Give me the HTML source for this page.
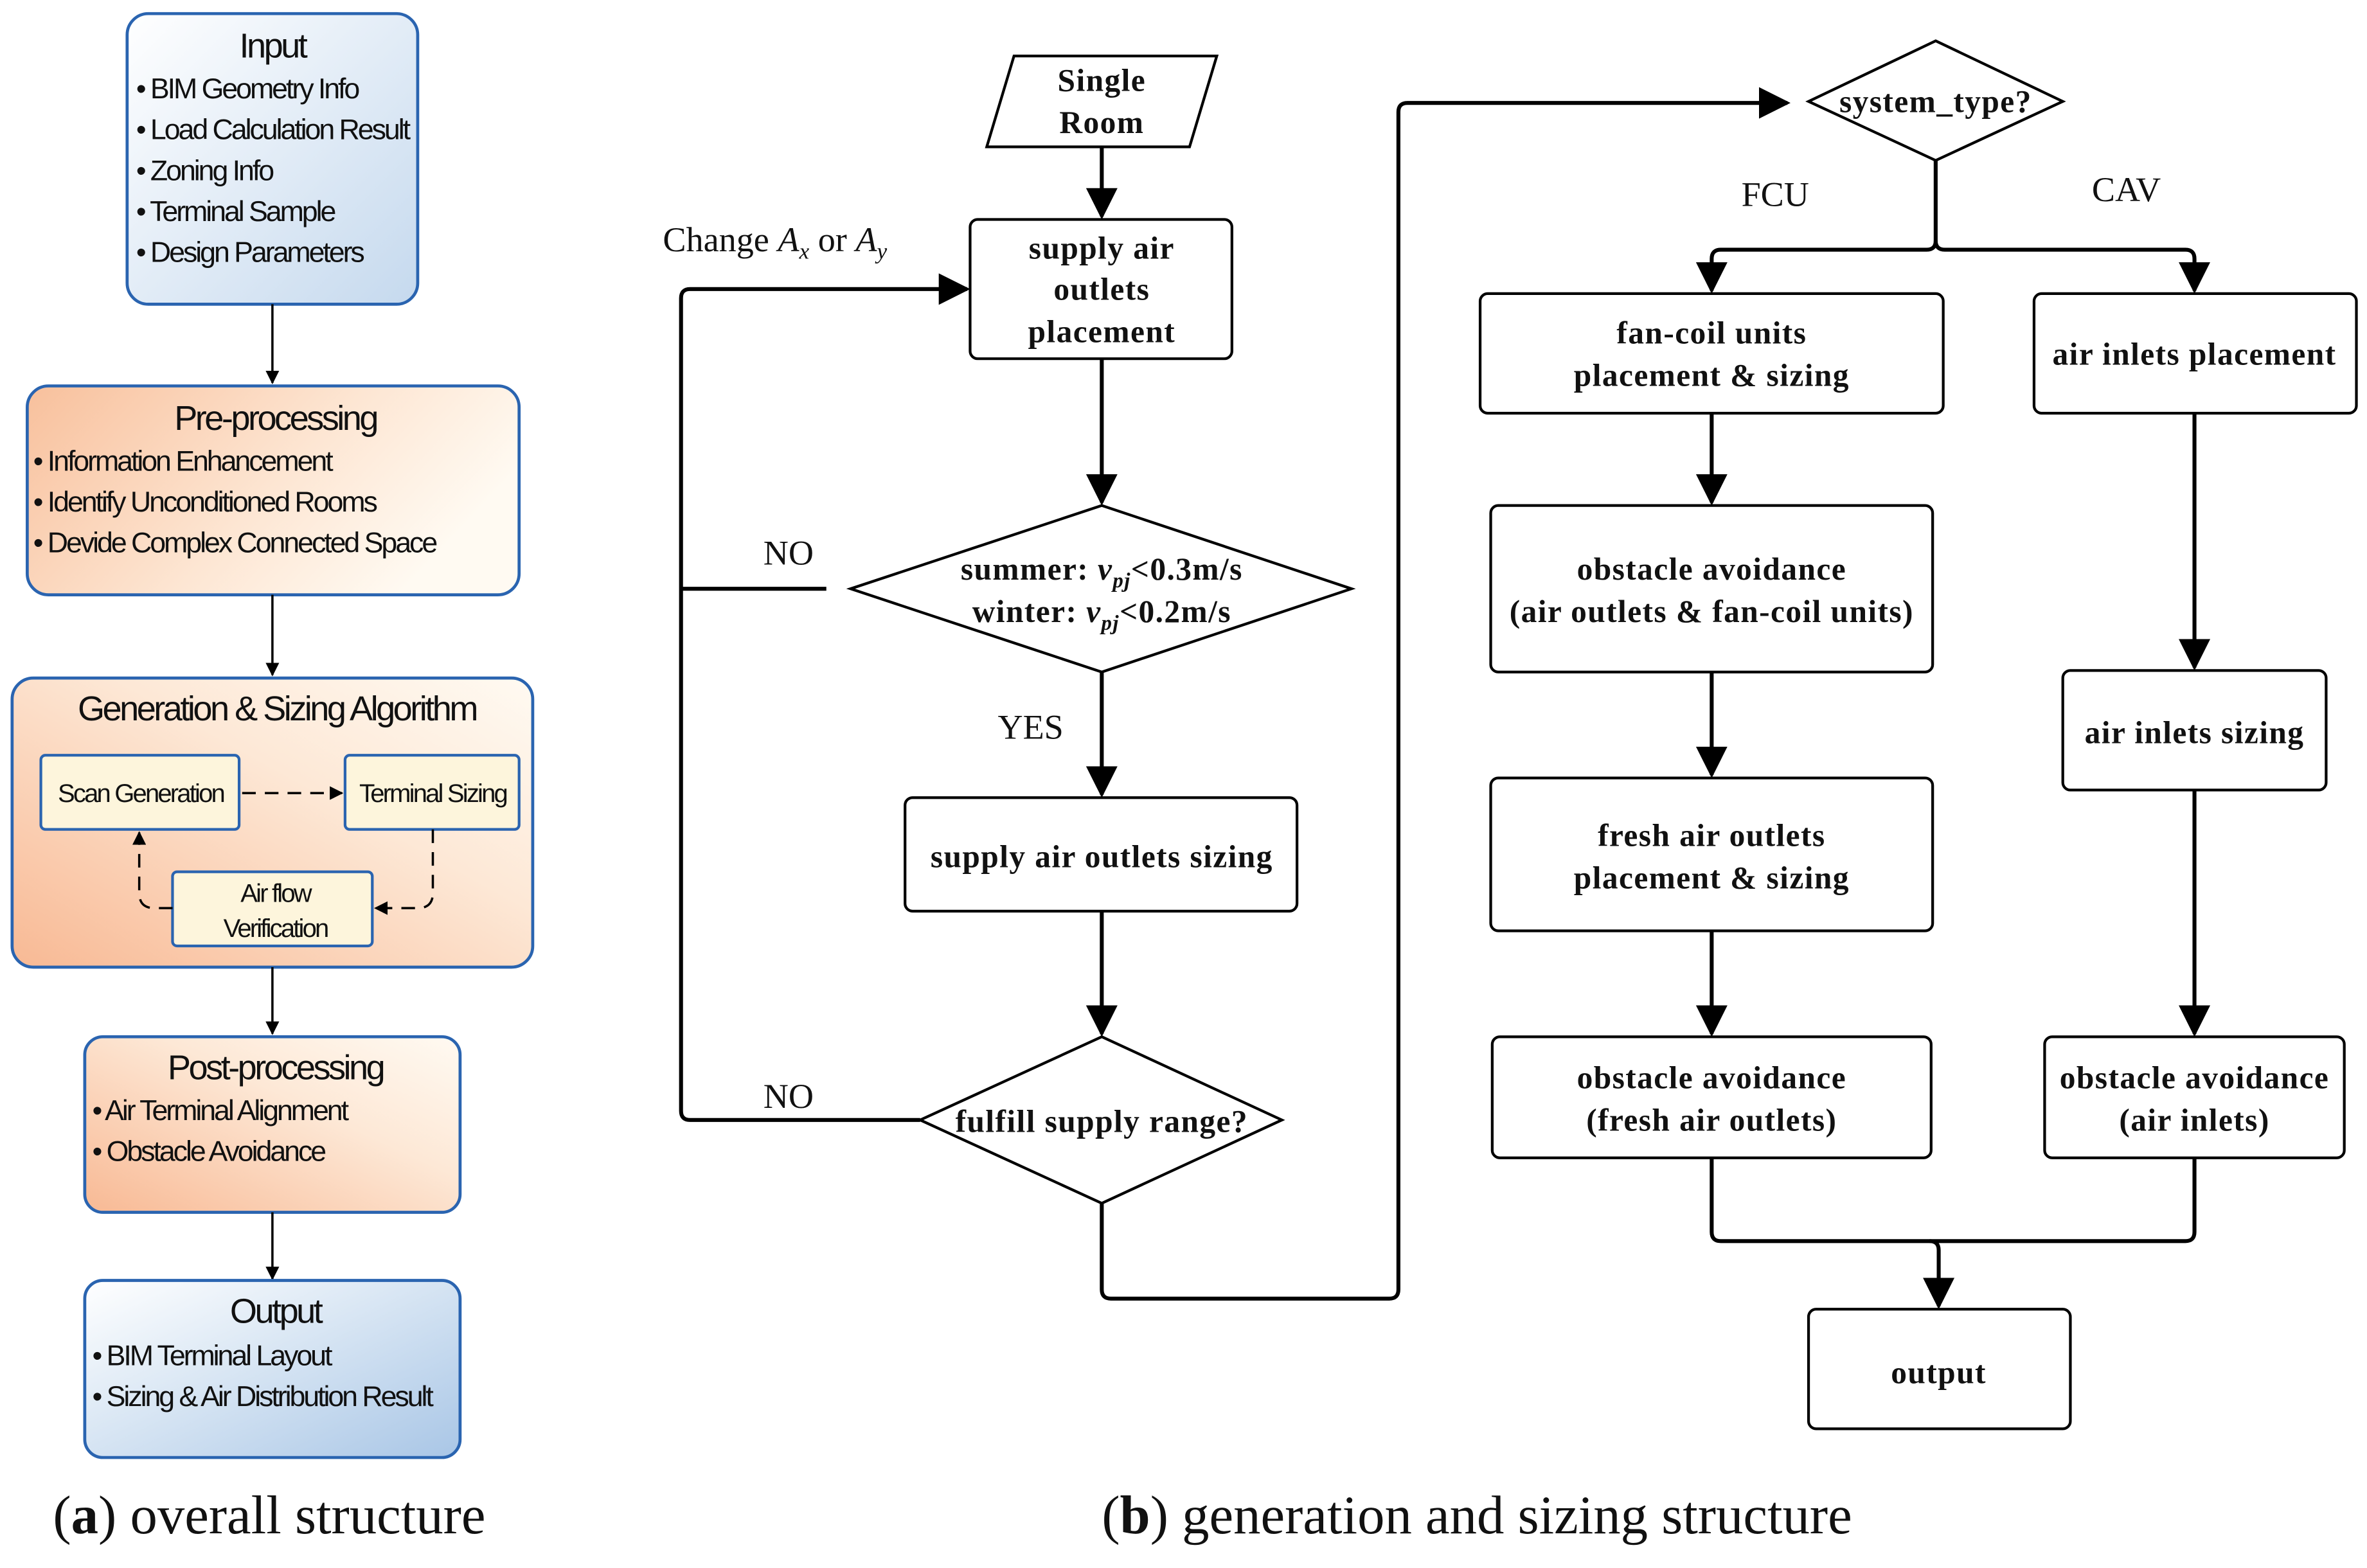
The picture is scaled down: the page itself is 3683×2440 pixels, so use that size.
<!DOCTYPE html>
<html><head><meta charset="utf-8"><style>
html,body{margin:0;padding:0;background:#fff;}
svg{display:block;}
.s{font-family:"Liberation Sans",sans-serif;font-size:19px;letter-spacing:-1.3px;fill:#111;}
.st{font-family:"Liberation Sans",sans-serif;font-size:23px;letter-spacing:-1.5px;fill:#111;}
.si{font-family:"Liberation Sans",sans-serif;font-size:17px;letter-spacing:-1.2px;fill:#111;}
.b{font-family:"Liberation Serif",serif;font-size:21px;font-weight:bold;fill:#111;letter-spacing:0.6px;}
.r{font-family:"Liberation Serif",serif;font-size:23px;fill:#111;}
.c{font-family:"Liberation Serif",serif;font-size:36px;fill:#111;}
.ln{stroke:#000;stroke-width:2.6;fill:none;}
.bx{stroke:#000;stroke-width:1.8;fill:#fff;}
</style></head><body>
<svg width="3683" height="2440" viewBox="0 0 1564 1036" preserveAspectRatio="none" xmlns="http://www.w3.org/2000/svg">
<defs>
<linearGradient id="gb" x1="0" y1="0" x2="1" y2="1"><stop offset="0" stop-color="#ffffff"/><stop offset="1" stop-color="#c5d9ee"/></linearGradient>
<linearGradient id="go" x1="0" y1="0" x2="1" y2="0.4"><stop offset="0" stop-color="#f8c09c"/><stop offset="0.6" stop-color="#fde6d3"/><stop offset="1" stop-color="#fffaf2"/></linearGradient>
<linearGradient id="go2" x1="0" y1="1" x2="1" y2="0"><stop offset="0" stop-color="#f8b994"/><stop offset="0.6" stop-color="#fde8d6"/><stop offset="1" stop-color="#fffaf2"/></linearGradient>
<linearGradient id="gob" x1="1" y1="1" x2="0" y2="0"><stop offset="0" stop-color="#a9c6e6"/><stop offset="0.6" stop-color="#dde9f5"/><stop offset="1" stop-color="#ffffff"/></linearGradient>
<marker id="a" viewBox="0 0 10 10" refX="9" refY="5" markerWidth="6" markerHeight="6" orient="auto"><path d="M0,0 L10,5 L0,10 z" fill="#000"/></marker>
<marker id="sa" viewBox="0 0 10 10" refX="9" refY="5" markerWidth="8" markerHeight="8" orient="auto"><path d="M0,0 L10,5 L0,10 z" fill="#000"/></marker>
</defs>

<rect x="84" y="9" width="192" height="192" rx="14" fill="url(#gb)" stroke="#2a64b0" stroke-width="2"/>
<text x="180" y="38" class="st" text-anchor="middle">Input</text>
<text x="90" y="65" class="s">• BIM Geometry Info</text>
<text x="90" y="92" class="s">• Load Calculation Result</text>
<text x="90" y="119" class="s">• Zoning Info</text>
<text x="90" y="146" class="s">• Terminal Sample</text>
<text x="90" y="173" class="s">• Design Parameters</text>
<line x1="180" y1="201" x2="180" y2="253" stroke="#000" stroke-width="1.5" marker-end="url(#a)"/>

<rect x="18" y="255" width="325" height="138" rx="14" fill="url(#go)" stroke="#2a64b0" stroke-width="2"/>
<text x="182" y="284" class="st" text-anchor="middle">Pre-processing</text>
<text x="22" y="311" class="s">• Information Enhancement</text>
<text x="22" y="338" class="s">• Identify Unconditioned Rooms</text>
<text x="22" y="365" class="s">• Devide Complex Connected Space</text>
<line x1="180" y1="393" x2="180" y2="446" stroke="#000" stroke-width="1.5" marker-end="url(#a)"/>

<rect x="8" y="448" width="344" height="191" rx="14" fill="url(#go2)" stroke="#2a64b0" stroke-width="2"/>
<text x="183" y="476" class="st" text-anchor="middle">Generation &amp; Sizing Algorithm</text>
<rect x="27" y="499" width="131" height="49" rx="3" fill="#fdf5dc" stroke="#2a64b0" stroke-width="1.8"/>
<text x="93" y="530" class="si" text-anchor="middle">Scan Generation</text>
<rect x="228" y="499" width="115" height="49" rx="3" fill="#fdf5dc" stroke="#2a64b0" stroke-width="1.8"/>
<text x="286" y="530" class="si" text-anchor="middle">Terminal Sizing</text>
<rect x="114" y="576" width="132" height="49" rx="3" fill="#fdf5dc" stroke="#2a64b0" stroke-width="1.8"/>
<text x="182" y="596" class="si" text-anchor="middle">Air flow</text>
<text x="182" y="619" class="si" text-anchor="middle">Verification</text>
<line x1="160" y1="524" x2="226" y2="524" stroke="#000" stroke-width="1.5" stroke-dasharray="9,6" marker-end="url(#a)"/>
<path d="M286,548 L286,590 Q286,600 276,600 L248,600" stroke="#000" stroke-width="1.5" fill="none" stroke-dasharray="9,6" marker-end="url(#a)"/>
<path d="M114,600 L102,600 Q92,600 92,590 L92,550" stroke="#000" stroke-width="1.5" fill="none" stroke-dasharray="9,6" marker-end="url(#a)"/>
<line x1="180" y1="639" x2="180" y2="683" stroke="#000" stroke-width="1.5" marker-end="url(#a)"/>

<rect x="56" y="685" width="248" height="116" rx="12" fill="url(#go2)" stroke="#2a64b0" stroke-width="2"/>
<text x="182" y="713" class="st" text-anchor="middle">Post-processing</text>
<text x="61" y="740" class="s">• Air Terminal Alignment</text>
<text x="61" y="767" class="s">• Obstacle Avoidance</text>
<line x1="180" y1="801" x2="180" y2="845" stroke="#000" stroke-width="1.5" marker-end="url(#a)"/>

<rect x="56" y="846" width="248" height="117" rx="12" fill="url(#gob)" stroke="#2a64b0" stroke-width="2"/>
<text x="182" y="874" class="st" text-anchor="middle">Output</text>
<text x="61" y="902" class="s">• BIM Terminal Layout</text>
<text x="61" y="929" class="s">• Sizing &amp; Air Distribution Result</text>

<text x="35" y="1013" class="c">(<tspan font-weight="bold">a</tspan>) overall structure</text>

<path d="M670,37 L804,37 L786,97 L652,97 Z" class="bx"/>
<text x="728" y="60" class="b" text-anchor="middle">Single</text>
<text x="728" y="88" class="b" text-anchor="middle">Room</text>
<line x1="728" y1="97" x2="728" y2="143" class="ln" marker-end="url(#sa)"/>

<rect x="641" y="145" width="173" height="92" rx="5" class="bx"/>
<text x="728" y="171" class="b" text-anchor="middle">supply air</text>
<text x="728" y="198" class="b" text-anchor="middle">outlets</text>
<text x="728" y="226" class="b" text-anchor="middle">placement</text>
<line x1="728" y1="237" x2="728" y2="332" class="ln" marker-end="url(#sa)"/>

<path d="M728,334 L893,389 L728,444 L562,389 Z" class="bx"/>
<text x="728" y="383" class="b" text-anchor="middle">summer: <tspan font-style="italic">v</tspan><tspan font-style="italic" font-size="14" dy="5">pj</tspan><tspan dy="-5">&lt;0.3m/s</tspan></text>
<text x="728" y="411" class="b" text-anchor="middle">winter: <tspan font-style="italic">v</tspan><tspan font-style="italic" font-size="14" dy="5">pj</tspan><tspan dy="-5">&lt;0.2m/s</tspan></text>
<text x="521" y="373" class="r" text-anchor="middle">NO</text>
<line x1="546" y1="389" x2="450" y2="389" class="ln"/>
<path d="M608,740 L456,740 Q450,740 450,734 L450,197 Q450,191 456,191 L639,191" class="ln" marker-end="url(#sa)"/>
<text x="438" y="166" class="r">Change <tspan font-style="italic">A</tspan><tspan font-style="italic" font-size="15" dy="5">x</tspan><tspan dy="-5"> or </tspan><tspan font-style="italic">A</tspan><tspan font-style="italic" font-size="15" dy="5">y</tspan></text>

<line x1="728" y1="444" x2="728" y2="525" class="ln" marker-end="url(#sa)"/>
<text x="681" y="488" class="r" text-anchor="middle">YES</text>
<rect x="598" y="527" width="259" height="75" rx="5" class="bx"/>
<text x="728" y="573" class="b" text-anchor="middle">supply air outlets sizing</text>
<line x1="728" y1="602" x2="728" y2="683" class="ln" marker-end="url(#sa)"/>

<path d="M728,685 L847,740 L728,795 L608,740 Z" class="bx"/>
<text x="728" y="748" class="b" text-anchor="middle">fulfill supply range?</text>
<text x="521" y="732" class="r" text-anchor="middle">NO</text>

<path d="M728,795 L728,852 Q728,858 734,858 L918,858 Q924,858 924,852 L924,74 Q924,68 930,68 L1181,68" class="ln" marker-end="url(#sa)"/>

<path d="M1279,27 L1363,67 L1279,106 L1195,67 Z" class="bx"/>
<text x="1279" y="74" class="b" text-anchor="middle">system_type?</text>
<path d="M1279,106 L1279,159 Q1279,165 1273,165 L1137,165 Q1131,165 1131,171 L1131,192" class="ln" marker-end="url(#sa)"/>
<path d="M1279,159 Q1279,165 1285,165 L1444,165 Q1450,165 1450,171 L1450,192" class="ln" marker-end="url(#sa)"/>
<text x="1173" y="136" class="r" text-anchor="middle">FCU</text>
<text x="1405" y="133" class="r" text-anchor="middle">CAV</text>

<rect x="978" y="194" width="306" height="79" rx="5" class="bx"/>
<text x="1131" y="227" class="b" text-anchor="middle">fan-coil units</text>
<text x="1131" y="255" class="b" text-anchor="middle">placement &amp; sizing</text>
<rect x="1344" y="194" width="213" height="79" rx="5" class="bx"/>
<text x="1450" y="241" class="b" text-anchor="middle">air inlets placement</text>

<line x1="1131" y1="273" x2="1131" y2="332" class="ln" marker-end="url(#sa)"/>
<rect x="985" y="334" width="292" height="110" rx="5" class="bx"/>
<text x="1131" y="383" class="b" text-anchor="middle">obstacle avoidance</text>
<text x="1131" y="411" class="b" text-anchor="middle">(air outlets &amp; fan-coil units)</text>

<line x1="1131" y1="444" x2="1131" y2="512" class="ln" marker-end="url(#sa)"/>
<rect x="985" y="514" width="292" height="101" rx="5" class="bx"/>
<text x="1131" y="559" class="b" text-anchor="middle">fresh air outlets</text>
<text x="1131" y="587" class="b" text-anchor="middle">placement &amp; sizing</text>

<line x1="1131" y1="615" x2="1131" y2="683" class="ln" marker-end="url(#sa)"/>
<rect x="986" y="685" width="290" height="80" rx="5" class="bx"/>
<text x="1131" y="719" class="b" text-anchor="middle">obstacle avoidance</text>
<text x="1131" y="747" class="b" text-anchor="middle">(fresh air outlets)</text>

<line x1="1450" y1="273" x2="1450" y2="441" class="ln" marker-end="url(#sa)"/>
<rect x="1363" y="443" width="174" height="79" rx="5" class="bx"/>
<text x="1450" y="491" class="b" text-anchor="middle">air inlets sizing</text>
<line x1="1450" y1="522" x2="1450" y2="683" class="ln" marker-end="url(#sa)"/>
<rect x="1351" y="685" width="198" height="80" rx="5" class="bx"/>
<text x="1450" y="719" class="b" text-anchor="middle">obstacle avoidance</text>
<text x="1450" y="747" class="b" text-anchor="middle">(air inlets)</text>

<path d="M1131,765 L1131,814 Q1131,820 1137,820 L1444,820 Q1450,820 1450,814 L1450,765" class="ln"/>
<path d="M1275,820 Q1281,820 1281,826 L1281,863" class="ln" marker-end="url(#sa)"/>
<rect x="1195" y="865" width="173" height="79" rx="5" class="bx"/>
<text x="1281" y="914" class="b" text-anchor="middle">output</text>

<text x="728" y="1013" class="c">(<tspan font-weight="bold">b</tspan>) generation and sizing structure</text>
</svg>
</body></html>
